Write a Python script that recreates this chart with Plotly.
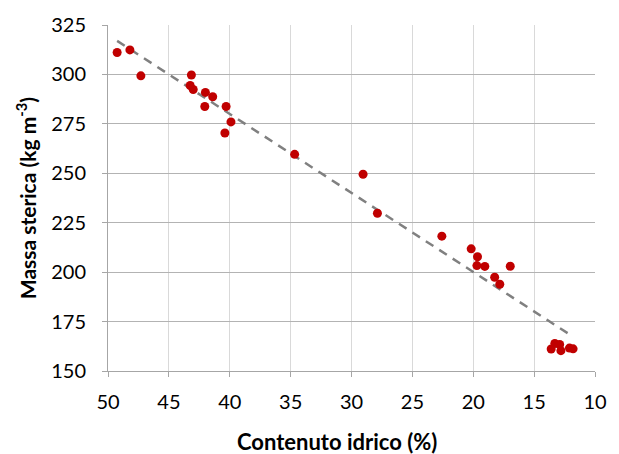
import numpy as np
import plotly.graph_objects as go

water = [49.25, 48.2, 47.3, 43.15, 43.25, 43.0, 42.0, 41.4, 42.05, 40.3, 39.9, 40.4,
         34.67, 29.05, 27.87, 22.58, 20.17, 19.65, 19.7, 19.05, 16.96, 18.24, 17.82,
         13.6, 13.3, 12.9, 12.8, 12.1, 11.8]
density = [311.1, 312.4, 299.3, 299.7, 294.4, 292.4, 290.9, 288.7, 283.8, 283.8, 276.0, 270.4,
           259.6, 249.5, 229.8, 218.2, 211.8, 207.8, 203.3, 202.9, 203.0, 197.4, 193.9,
           161.1, 163.9, 163.4, 160.3, 161.6, 161.2]

x_ticks = [50, 45, 40, 35, 30, 25, 20, 15, 10]
y_ticks = [150, 175, 200, 225, 250, 275, 300, 325]

x_title = "Contenuto idrico (%)"
y_title = "Massa sterica (kg m<sup>-3</sup>)"

slope, intercept = np.polyfit(water, density, 1)
x_fit = np.array([max(water), min(water)])
y_fit = slope * x_fit + intercept

fig = go.Figure()
fig.add_trace(go.Scatter(x=x_fit, y=y_fit, mode="lines",
                         line=dict(color="#808080", width=2.5, dash="9px,7px"),
                         hoverinfo="skip", showlegend=False))
fig.add_trace(go.Scatter(x=water, y=density, mode="markers",
                         marker=dict(color="#C00000", size=9),
                         showlegend=False))

font_family = "Lato, 'Open Sans', sans-serif"
fig.update_layout(
    width=619, height=454,
    margin=dict(l=108, r=12, t=22, b=83),
    paper_bgcolor="white", plot_bgcolor="white",
    font=dict(family=font_family, color="#000000"),
    xaxis=dict(range=[50, 10], tickvals=x_ticks, showgrid=True, gridcolor="#D9D9D9",
               gridwidth=1, showline=True, linecolor="#A6A6A6", linewidth=1,
               ticks="outside", ticklen=5, tickcolor="#A6A6A6", ticklabelstandoff=8,
               tickfont=dict(size=20, family=font_family), zeroline=False),
    yaxis=dict(range=[150, 325], tickvals=y_ticks, showgrid=True, gridcolor="#B3B3B3",
               gridwidth=1, showline=True, linecolor="#A6A6A6", linewidth=1,
               ticks="outside", ticklen=5, tickcolor="#A6A6A6", ticklabelstandoff=12,
               tickfont=dict(size=20, family=font_family), zeroline=False),
    annotations=[
        dict(text="<b>" + x_title + "</b>", xref="paper", yref="paper",
             x=0.47, y=-0.205, xanchor="center", yanchor="middle", showarrow=False,
             font=dict(size=22, family=font_family, color="#000000")),
        dict(text="<b>" + y_title + "</b>", xref="paper", yref="paper",
             x=-0.168, y=0.5, xanchor="center", yanchor="middle", showarrow=False,
             textangle=-90, font=dict(size=21, family=font_family, color="#000000")),
    ],
)

fig.write_html("out.html")
